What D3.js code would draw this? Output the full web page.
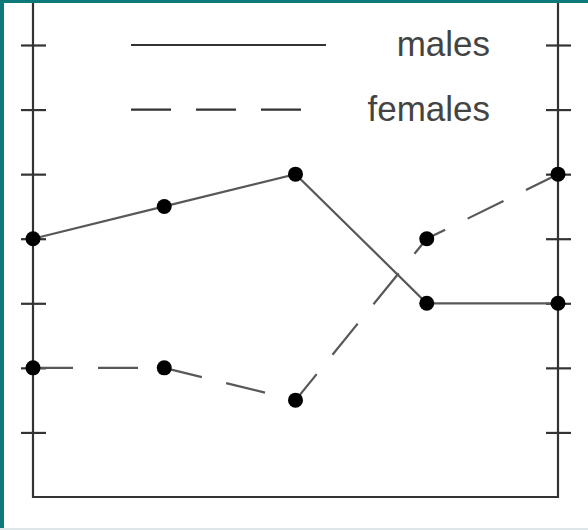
<!DOCTYPE html>
<html><head><meta charset="utf-8">
<script src="https://cdn.jsdelivr.net/npm/d3@7"></script>
<style>html,body{margin:0;padding:0;background:#fff;}svg{display:block;}</style>
</head><body>
<script>
const categories = ["1","2","3","4","5"];
const males = [4, 4.5, 5, 3, 3];
const females = [2, 2, 1.5, 4, 5];
const tickValues = [1,2,3,4,5,6,7];
const seriesNames = ["males","females"];

const W = 588, H = 530;
const svg = d3.select("body").append("svg").attr("width", W).attr("height", H);
svg.append("rect").attr("width", W).attr("height", H).attr("fill", "#fff");

const x = d3.scalePoint().domain(categories).range([33, 558]);
const y = d3.scaleLinear().domain([0, 7]).range([497, 45]);

const axisColor = "#333", lineColor = "#585858";

// frame
svg.append("path")
  .attr("d", `M${x(categories[0])},0 V${y(0)} H${x(categories[4])} V0`)
  .attr("fill","none").attr("stroke",axisColor).attr("stroke-width",2.2);

// ticks both sides
const leftAxis = d3.axisLeft(y).tickValues(tickValues).tickSizeInner(-12).tickSizeOuter(0).tickFormat("");
const gl = svg.append("g").attr("transform",`translate(${x(categories[0])-12},0)`).call(leftAxis);
gl.select(".domain").remove();
gl.selectAll(".tick line").attr("x2",25).attr("x1",0).attr("stroke",axisColor).attr("stroke-width",2.2);
const gr = svg.append("g").attr("transform",`translate(${x(categories[4])-12},0)`).call(leftAxis);
gr.select(".domain").remove();
gr.selectAll(".tick line").attr("x2",25).attr("x1",0).attr("stroke",axisColor).attr("stroke-width",2.2);

const line = d3.line().x((d,i)=>x(categories[i])).y(d=>y(d));
svg.append("path").datum(males).attr("d",line).attr("fill","none")
  .attr("stroke",lineColor).attr("stroke-width",2.2);
svg.append("path").datum(females).attr("d",line).attr("fill","none")
  .attr("stroke",lineColor).attr("stroke-width",2.2).attr("stroke-dasharray","40,25");

[males,females].forEach(s=>{
  svg.append("g").selectAll("circle").data(s).join("circle")
    .attr("cx",(d,i)=>x(categories[i])).attr("cy",d=>y(d)).attr("r",7.5).attr("fill","#000");
});

// legend
svg.append("line").attr("x1",131).attr("x2",326).attr("y1",y(7)).attr("y2",y(7))
  .attr("stroke",axisColor).attr("stroke-width",2.2);
svg.append("line").attr("x1",131).attr("x2",305).attr("y1",y(6)).attr("y2",y(6))
  .attr("stroke",axisColor).attr("stroke-width",2.2).attr("stroke-dasharray","40,25");
svg.selectAll("text.leg").data(seriesNames).join("text").attr("class","leg")
  .attr("x",490).attr("y",(d,i)=>y(7-i)+11).attr("text-anchor","end")
  .attr("font-family","Liberation Sans, Arial, sans-serif").attr("font-size",35)
  .attr("fill","#444").text(d=>d);

// teal border
svg.append("rect").attr("x",0).attr("y",0).attr("width",4).attr("height",H).attr("fill","#0b7a78");
svg.append("rect").attr("x",0).attr("y",0).attr("width",W).attr("height",3).attr("fill","#0b7a78");
svg.append("rect").attr("x",0).attr("y",H-2).attr("width",W).attr("height",2).attr("fill","#dde6e8");
</script>
</body></html>
